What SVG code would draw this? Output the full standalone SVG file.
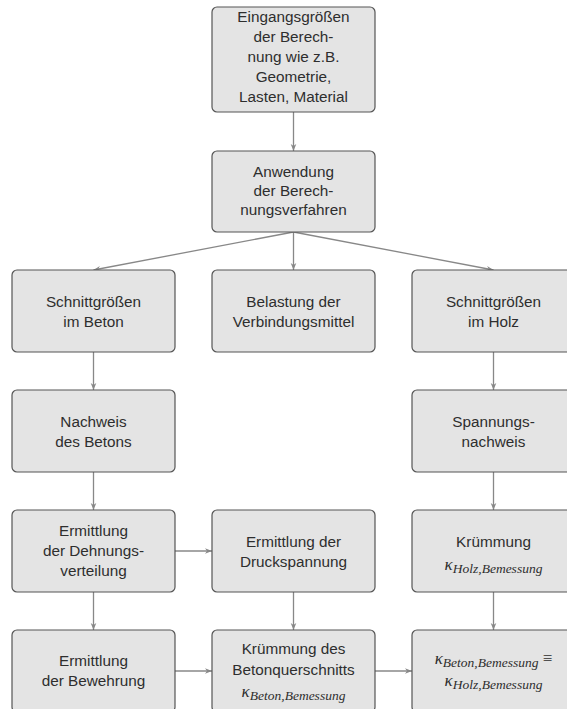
<svg xmlns="http://www.w3.org/2000/svg" width="567" height="709" viewBox="0 0 567 709">
<defs>
<style>
.box{fill:#e4e4e4;stroke:#555;stroke-width:1.2}
.t{font-family:"Liberation Sans",Arial,sans-serif;font-size:15.3px;fill:#2e2e2e;text-anchor:middle}
.m{font-family:"Liberation Serif","Times New Roman",serif;font-style:italic;font-size:17px;fill:#2e2e2e;text-anchor:middle}
.sub{font-size:13.5px}
.rel{font-style:normal;font-size:17px}
.c{stroke:#888;stroke-width:1.3;fill:none;marker-end:url(#ah)}
</style>
<marker id="ah" viewBox="0 0 10 10" refX="10" refY="5" markerWidth="7" markerHeight="7" markerUnits="userSpaceOnUse" orient="auto">
<path d="M0,1 L10,5 L0,9 L3,5 z" fill="#888"/>
</marker>
</defs>
<rect width="567" height="709" fill="#fff"/>
<g id="connectors">
<line class="c" x1="293.5" y1="112" x2="293.5" y2="151"/>
<line class="c" x1="293.5" y1="232" x2="93.5" y2="270"/>
<line class="c" x1="293.5" y1="232" x2="293.5" y2="270"/>
<line class="c" x1="293.5" y1="232" x2="493.5" y2="270"/>
<line class="c" x1="93.5" y1="352" x2="93.5" y2="390"/>
<line class="c" x1="93.5" y1="472" x2="93.5" y2="510"/>
<line class="c" x1="93.5" y1="592" x2="93.5" y2="630"/>
<line class="c" x1="493.5" y1="352" x2="493.5" y2="390"/>
<line class="c" x1="493.5" y1="472" x2="493.5" y2="510"/>
<line class="c" x1="493.5" y1="592" x2="493.5" y2="630"/>
<line class="c" x1="293.5" y1="592" x2="293.5" y2="630"/>
<line class="c" x1="175" y1="551" x2="212" y2="551"/>
<line class="c" x1="175" y1="671" x2="212" y2="671"/>
<line class="c" x1="375" y1="671" x2="412" y2="671"/>
</g>
<g id="n1">
<rect class="box" x="212" y="7" width="163" height="105" rx="5"/>
<text class="t" x="293.5" y="22">Eingangsgrößen</text>
<text class="t" x="293.5" y="42">der Berech-</text>
<text class="t" x="293.5" y="62">nung wie z.B.</text>
<text class="t" x="293.5" y="82">Geometrie,</text>
<text class="t" x="293.5" y="102">Lasten, Material</text>
</g>
<g id="n2">
<rect class="box" x="212" y="151" width="163" height="81" rx="5"/>
<text class="t" x="293.5" y="177">Anwendung</text>
<text class="t" x="293.5" y="196">der Berech-</text>
<text class="t" x="293.5" y="215">nungsverfahren</text>
</g>
<g id="n3">
<rect class="box" x="12" y="270" width="163" height="82" rx="5"/>
<text class="t" x="93.5" y="307">Schnittgrößen</text>
<text class="t" x="93.5" y="327">im Beton</text>
</g>
<g id="n4">
<rect class="box" x="212" y="270" width="163" height="82" rx="5"/>
<text class="t" x="293.5" y="307">Belastung der</text>
<text class="t" x="293.5" y="327">Verbindungsmittel</text>
</g>
<g id="n5">
<rect class="box" x="412" y="270" width="163" height="82" rx="5"/>
<text class="t" x="493.5" y="307">Schnittgrößen</text>
<text class="t" x="493.5" y="327">im Holz</text>
</g>
<g id="n6">
<rect class="box" x="12" y="390" width="163" height="82" rx="5"/>
<text class="t" x="93.5" y="427">Nachweis</text>
<text class="t" x="93.5" y="447">des Betons</text>
</g>
<g id="n7">
<rect class="box" x="412" y="390" width="163" height="82" rx="5"/>
<text class="t" x="493.5" y="427">Spannungs-</text>
<text class="t" x="493.5" y="447">nachweis</text>
</g>
<g id="n8">
<rect class="box" x="12" y="510" width="163" height="82" rx="5"/>
<text class="t" x="93.5" y="536">Ermittlung</text>
<text class="t" x="93.5" y="556">der Dehnungs-</text>
<text class="t" x="93.5" y="576">verteilung</text>
</g>
<g id="n9">
<rect class="box" x="212" y="510" width="163" height="82" rx="5"/>
<text class="t" x="293.5" y="547">Ermittlung der</text>
<text class="t" x="293.5" y="567">Druckspannung</text>
</g>
<g id="n10">
<rect class="box" x="412" y="510" width="163" height="82" rx="5"/>
<text class="t" x="493.5" y="547">Krümmung</text>
<text class="m" x="493.5" y="570">κ<tspan class="sub" dy="3">Holz,Bemessung</tspan></text>
</g>
<g id="n11">
<rect class="box" x="12" y="630" width="163" height="82" rx="5"/>
<text class="t" x="93.5" y="666">Ermittlung</text>
<text class="t" x="93.5" y="686">der Bewehrung</text>
</g>
<g id="n12">
<rect class="box" x="212" y="630" width="163" height="82" rx="5"/>
<text class="t" x="293.5" y="654">Krümmung des</text>
<text class="t" x="293.5" y="675">Betonquerschnitts</text>
<text class="m" x="293.5" y="697">κ<tspan class="sub" dy="3">Beton,Bemessung</tspan></text>
</g>
<g id="n13">
<rect class="box" x="412" y="630" width="163" height="82" rx="5"/>
<text class="m" x="493.5" y="664">κ<tspan class="sub" dy="3">Beton,Bemessung</tspan><tspan class="rel" dy="-3"> ≡</tspan></text>
<text class="m" x="493.5" y="686">κ<tspan class="sub" dy="3">Holz,Bemessung</tspan></text>
</g>
</svg>
